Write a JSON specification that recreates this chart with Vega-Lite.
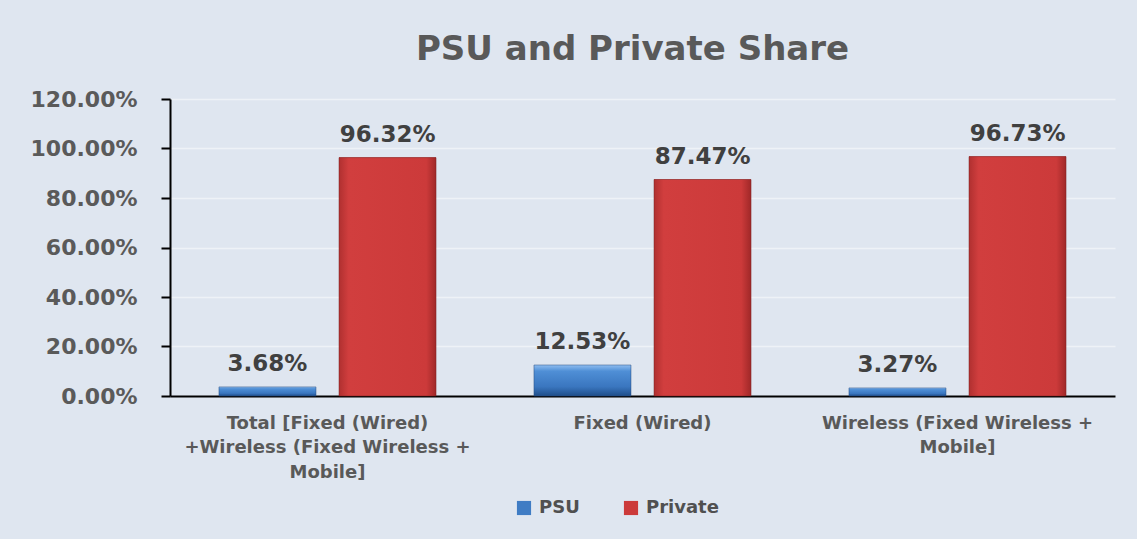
{
  "$schema": "https://vega.github.io/schema/vega-lite/v6.json",
  "width": 945,
  "height": 297,
  "autosize": {"type": "none"},
  "padding": {"left": 170, "top": 99, "right": 22, "bottom": 143},
  "background": "#dfe6f0",
  "config": {"view": {"stroke": null}, "font": "DejaVu Sans"},
  "title": {"text": "PSU and Private Share", "fontSize": 34, "fontWeight": "bold", "color": "#595959", "font": "DejaVu Sans", "offset": 21, "anchor": "middle", "dx": -10},
  "data": {"values": [
    {"category": "Total [Fixed (Wired) +Wireless (Fixed Wireless + Mobile]", "series": "PSU", "share": 0.0368},
    {"category": "Total [Fixed (Wired) +Wireless (Fixed Wireless + Mobile]", "series": "Private", "share": 0.9632},
    {"category": "Fixed (Wired)", "series": "PSU", "share": 0.1253},
    {"category": "Fixed (Wired)", "series": "Private", "share": 0.8747},
    {"category": "Wireless  (Fixed Wireless + Mobile]", "series": "PSU", "share": 0.0327},
    {"category": "Wireless  (Fixed Wireless + Mobile]", "series": "Private", "share": 0.9673}
  ]},
  "encoding": {
    "x": {
      "field": "category", "type": "nominal", "sort": null,
      "scale": {"paddingInner": 0, "paddingOuter": 0},
      "axis": {
        "title": null, "labelAngle": 0, "ticks": false, "grid": false,
        "domainColor": "#000000", "domainWidth": 2,
        "labelFont": "DejaVu Sans", "labelFontWeight": "bold", "labelFontSize": 18, "labelColor": "#595959",
        "labelPadding": 18, "labelLineHeight": 24.5, "labelLimit": 400,
        "labelExpr": "datum.value == 'Fixed (Wired)' ? datum.value : (datum.value == 'Wireless  (Fixed Wireless + Mobile]' ? ['Wireless  (Fixed Wireless +', 'Mobile]'] : ['Total [Fixed (Wired)', '+Wireless (Fixed Wireless +', 'Mobile]'])"
      }
    },
    "xOffset": {"field": "series", "type": "nominal", "sort": ["PSU", "Private"], "scale": {"domain": ["PSU", "Private"], "paddingInner": 0.192, "paddingOuter": 0.408}},
    "y": {
      "field": "share", "type": "quantitative",
      "scale": {"domain": [0, 1.2]},
      "axis": {
        "title": null, "values": [0, 0.2, 0.4, 0.6, 0.8, 1.0, 1.2], "format": ".2%",
        "labelFont": "DejaVu Sans", "labelFontWeight": "bold", "labelFontSize": 22, "labelColor": "#5a5a5a",
        "labelPadding": 24, "domainColor": "#000000", "domainWidth": 2,
        "tickColor": "#000000", "tickWidth": 2, "tickSize": 9,
        "gridColor": "#eef2f7", "gridWidth": 1.5
      }
    }
  },
  "layer": [
    {
      "mark": {"type": "bar"},
      "encoding": {
        "color": {
          "field": "series", "type": "nominal",
          "scale": {"domain": ["PSU", "Private"], "range": ["#3f7cc4", "#cc3a3a"]},
          "legend": {
            "title": null, "orient": "none", "legendX": 345, "legendY": 400, "direction": "horizontal",
            "symbolType": "square", "symbolSize": 200, "symbolStrokeWidth": 0, "labelOffset": 6,
            "labelFont": "DejaVu Sans", "labelFontWeight": "bold", "labelFontSize": 18, "labelColor": "#505050",
            "columnPadding": 42
          }
        }
      }
    },
    {
      "transform": [{"filter": "datum.series == 'PSU'"}],
      "mark": {"type": "bar", "stroke": "#2a4f80", "strokeWidth": 0.5, "color": {"gradient": "linear", "x1": 0, "y1": 0, "x2": 0, "y2": 1, "stops": [{"offset": 0, "color": "#8fbdf0"}, {"offset": 0.2, "color": "#4f8fd6"}, {"offset": 0.7, "color": "#3a76bf"}, {"offset": 1, "color": "#1f4e8a"}]}}
    },
    {
      "transform": [{"filter": "datum.series == 'Private'"}],
      "mark": {"type": "bar", "stroke": "#7a2020", "strokeWidth": 0.5, "color": {"gradient": "linear", "x1": 0, "y1": 0, "x2": 1, "y2": 0, "stops": [{"offset": 0, "color": "#b03030"}, {"offset": 0.1, "color": "#d13e3e"}, {"offset": 0.9, "color": "#cc3a3a"}, {"offset": 1, "color": "#a02828"}]}}
    },
    {
      "mark": {"type": "text", "baseline": "bottom", "dy": -11, "font": "DejaVu Sans", "fontWeight": "bold", "fontSize": 23, "color": "#404040"},
      "encoding": {"text": {"field": "share", "type": "quantitative", "format": ".2%"}}
    }
  ]
}
